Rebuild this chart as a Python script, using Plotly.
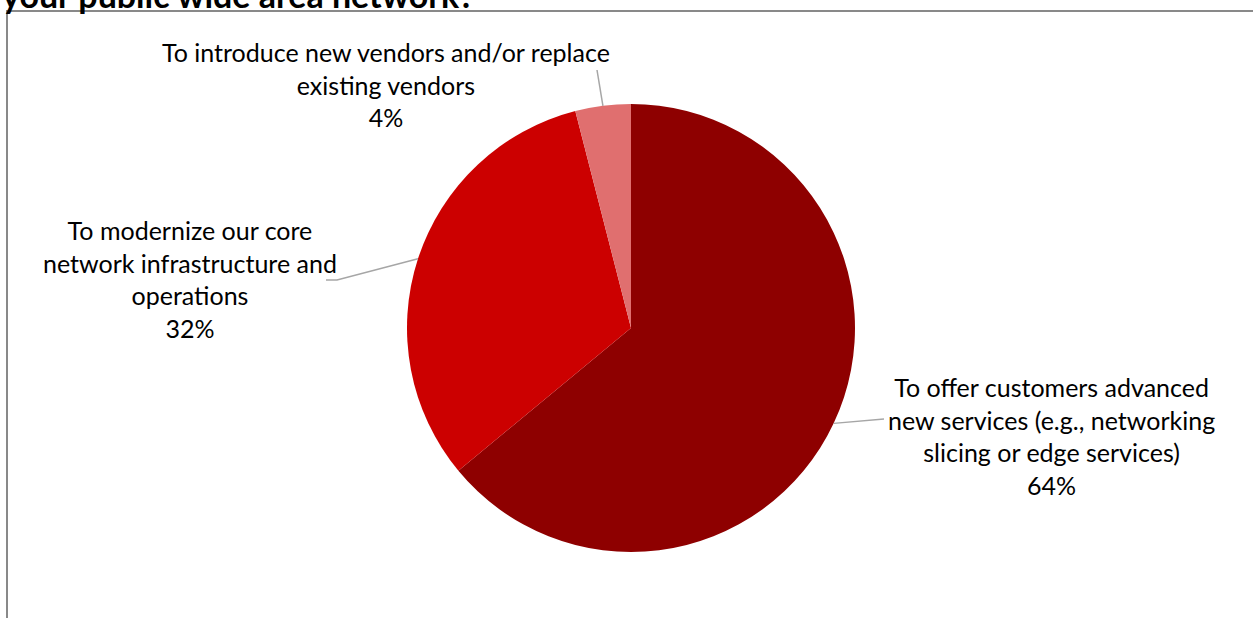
import math
import plotly.graph_objects as go

# ---- data ----
categories = [
    "To offer customers advanced<br>new services (e.g., networking<br>slicing or edge services)",
    "To modernize our core<br>network infrastructure and<br>operations",
    "To introduce new vendors and/or replace<br>existing vendors",
]
values = [64, 32, 4]
colors = ["#8E0000", "#CC0000", "#E06F6F"]
title_text = "your public wide area network?"

# ---- layout geometry (page pixels) ----
W, H = 1253, 618
OFF = 0
cx, cy, R = 631, 328, 224
FONT = "Lato, 'Noto Sans', sans-serif"
FS = 25

label_centres = [(1051, 436), (190, 279), (386, 85)]
leader_paths = [
    [(884, 419)],
    [(337, 280), (326, 280)],
    [(597, 70)],
]

def px(x):
    return (x - OFF) / W

def py(y):
    return 1 - (y - OFF) / H

fig = go.Figure(
    go.Pie(
        labels=[c.replace("<br>", " ") for c in categories],
        values=values,
        marker=dict(colors=colors, line=dict(width=0)),
        sort=False,
        direction="clockwise",
        rotation=0,
        textinfo="none",
        hoverinfo="label+percent",
        domain=dict(x=[px(cx - R), px(cx + R)], y=[py(cy + R), py(cy - R)]),
        showlegend=False,
    )
)

total = sum(values)
shapes = []
annotations = []
cum = 0
for i, v in enumerate(values):
    mid = (cum + v / 2) / total * 2 * math.pi
    cum += v
    ex = cx + R * math.sin(mid)
    ey = cy - R * math.cos(mid)
    pts = [(ex, ey)] + leader_paths[i]
    path = "M " + " L ".join(f"{px(x):.5f},{py(y):.5f}" for x, y in pts)
    shapes.append(dict(type="path", xref="paper", yref="paper", path=path,
                       line=dict(color="#A6A6A6", width=1.5)))
    pct = round(v / total * 100)
    lx, ly = label_centres[i]
    annotations.append(dict(
        x=px(lx), y=py(ly), xref="paper", yref="paper",
        text=f"{categories[i]}<br>{pct}%", showarrow=False,
        xanchor="center", yanchor="middle", align="center",
        font=dict(family=FONT, size=FS, color="#000000"),
    ))

# title (cut off at the top edge, as in the reference)
TFS = 34
annotations.append(dict(
    x=px(0), y=py(5 - 0.32 * TFS), xref="paper", yref="paper",
    text=f"<b>{title_text}</b>",
    showarrow=False, xanchor="left", yanchor="middle",
    font=dict(family=FONT, size=TFS, color="#000000"),
))

# chart area border (left and top edges visible)
shapes.append(dict(type="path", xref="paper", yref="paper",
                   path=f"M {px(7):.5f},{py(H + 40):.5f} L {px(7):.5f},{py(11):.5f} L {px(W + 40):.5f},{py(11):.5f}",
                   line=dict(color="#898989", width=2)))

fig.update_layout(
    width=W, height=H,
    margin=dict(l=0, r=0, t=0, b=0),
    paper_bgcolor="white", plot_bgcolor="white",
    shapes=shapes, annotations=annotations,
)

fig.write_html("out.html", config={"displayModeBar": False},
               post_script="document.body.style.margin='0px';")
